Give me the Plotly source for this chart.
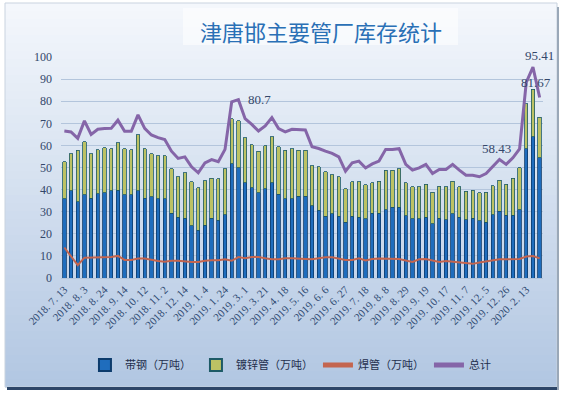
import plotly.graph_objects as go

# ---------------- data ----------------
dates = [
    "2018.7.13", "2018.7.20", "2018.7.27", "2018.8.3", "2018.8.10", "2018.8.17",
    "2018.8.24", "2018.8.31", "2018.9.7", "2018.9.14", "2018.9.21", "2018.9.28",
    "2018.10.12", "2018.10.19", "2018.10.26", "2018.11.2", "2018.11.16", "2018.11.30",
    "2018.12.14", "2018.12.21", "2018.12.28", "2019.1.4", "2019.1.11", "2019.1.18",
    "2019.1.24", "2019.2.15", "2019.2.22", "2019.3.1", "2019.3.8", "2019.3.14",
    "2019.3.21", "2019.3.28", "2019.4.11", "2019.4.18", "2019.4.25", "2019.5.9",
    "2019.5.16", "2019.5.23", "2019.5.30", "2019.6.6", "2019.6.13", "2019.6.20",
    "2019.6.27", "2019.7.4", "2019.7.11", "2019.7.18", "2019.7.25", "2019.8.1",
    "2019.8.8", "2019.8.15", "2019.8.22", "2019.8.29", "2019.9.5", "2019.9.12",
    "2019.9.19", "2019.9.26", "2019.10.10", "2019.10.17", "2019.10.24", "2019.10.31",
    "2019.11.7", "2019.11.14", "2019.11.28", "2019.12.5", "2019.12.12", "2019.12.19",
    "2019.12.26", "2020.1.2", "2020.1.9", "2020.2.13", "2020.2.20", "2020.2.27",
]

strip_steel = [  # 带钢（万吨）
    35.9, 39.5, 34.4, 37.7, 36.2, 38.2, 38.5, 39.5, 39.8, 37.7,
    37.7, 39.5, 36.2, 36.7, 35.9, 35.9, 29.4, 27.4, 27.0, 23.6,
    21.5, 23.8, 27.0, 26.1, 28.6, 51.8, 49.8, 43.0, 40.8, 38.5,
    40.3, 43.0, 38.0, 35.9, 35.9, 37.0, 37.0, 32.7, 30.6, 27.9,
    29.1, 27.9, 25.2, 27.9, 27.6, 26.7, 29.4, 29.4, 30.9, 32.1,
    32.1, 28.2, 26.7, 26.7, 27.6, 24.5, 27.1, 26.4, 29.1, 27.4,
    26.4, 27.1, 25.8, 25.2, 28.6, 30.2, 28.3, 28.3, 30.9, 58.5,
    63.9, 54.4,
]

galvanized = [  # 镀锌管（万吨）
    16.7, 16.7, 23.3, 24.0, 20.0, 19.8, 20.4, 19.0, 21.4, 20.8,
    20.3, 25.3, 22.3, 19.5, 19.4, 19.4, 20.0, 18.4, 20.6, 19.9,
    19.3, 20.3, 18.2, 18.7, 20.8, 20.3, 21.4, 20.5, 19.5, 18.8,
    19.5, 20.9, 21.4, 21.8, 22.6, 20.7, 20.7, 18.1, 19.7, 20.1,
    17.7, 17.9, 15.3, 15.6, 15.9, 15.4, 13.6, 14.4, 17.9, 16.7,
    17.3, 14.8, 14.5, 14.5, 14.8, 14.3, 14.4, 14.8, 14.7, 13.8,
    12.8, 12.6, 12.7, 13.6, 13.2, 14.0, 14.1, 16.9, 18.9, 20.4,
    21.6, 18.4,
]

welded = [  # 焊管（万吨）
    13.8, 10.0, 5.8, 9.2, 9.2, 9.2, 9.2, 9.5, 10.0, 8.2,
    8.2, 8.8, 8.8, 8.2, 7.7, 7.4, 7.8, 7.8, 7.4, 7.2,
    7.2, 7.8, 8.0, 8.0, 8.5, 7.8, 9.5, 8.9, 9.5, 9.5,
    8.9, 8.5, 8.5, 8.9, 8.9, 8.9, 8.6, 8.5, 8.9, 9.4,
    9.4, 8.9, 8.2, 8.2, 8.9, 7.9, 8.6, 8.8, 8.8, 8.9,
    8.6, 7.9, 7.3, 8.5, 8.6, 7.9, 7.3, 7.7, 7.3, 7.0,
    6.7, 6.4, 7.0, 7.6, 8.2, 8.5, 8.5, 8.5, 8.6, 9.7,
    9.9, 8.9,
]

total = [  # 总计
    66.5, 66.1, 63.2, 71.1, 65.0, 67.3, 67.6, 67.7, 71.4, 66.4,
    66.4, 73.8, 67.7, 64.7, 63.5, 62.7, 57.4, 54.1, 54.8, 50.3,
    47.6, 52.1, 53.6, 52.6, 58.2, 79.7, 80.7, 72.1, 69.5, 66.5,
    68.8, 72.6, 67.6, 66.1, 67.3, 67.0, 67.0, 59.4, 58.6, 57.4,
    56.4, 54.8, 48.3, 52.1, 52.9, 49.8, 51.6, 52.9, 58.2, 58.2,
    58.5, 51.4, 48.8, 49.8, 51.4, 47.3, 49.1, 49.1, 51.4, 48.8,
    46.5, 46.5, 45.8, 47.3, 50.6, 53.6, 51.4, 54.4, 58.43, 88.5,
    95.41, 81.67,
]

labelled_points = [26, 68, 70, 71]  # indices of annotated totals
title_text = "津唐邯主要管厂库存统计"
y_ticks = [0, 10, 20, 30, 40, 50, 60, 70, 80, 90, 100]

# ---------------- figure ----------------
cats = [d.replace(".", ". ") for d in dates]
W, H = 564, 396
L, R, T, B = 61, 21, 57, 118
pw, ph = W - L - R, H - T - B


def px_x(px):
    return (px - L) / pw


def px_y(py):
    return (H - B - py) / ph


fig = go.Figure()

fig.add_trace(go.Bar(
    x=cats, y=strip_steel, name="带钢（万吨）",
    marker=dict(color="#1f6dbd", line=dict(color="#0c3b6c", width=0.8)),
))
fig.add_trace(go.Bar(
    x=cats, y=galvanized, name="镀锌管（万吨）",
    marker=dict(color="#bcc264", line=dict(color="#1d5a66", width=0.8)),
))
fig.add_trace(go.Scatter(
    x=cats, y=welded, name="焊管（万吨）", mode="lines",
    line=dict(color="#c4654f", width=2),
))
fig.add_trace(go.Scatter(
    x=cats, y=total, name="总计", mode="lines",
    line=dict(color="#8565a8", width=3),
))

# background frame with vertical gradient
shapes = []
top_px, bot_px, left_px, right_px = 3, 387, 5, 557
n = 48
c0 = (244, 247, 252)
c1 = (178, 199, 226)
for i in range(n):
    f = i / (n - 1)
    col = tuple(int(round(c0[k] + (c1[k] - c0[k]) * f)) for k in range(3))
    y0 = top_px + (bot_px - top_px) * i / n
    y1 = top_px + (bot_px - top_px) * (i + 1) / n + 0.6
    shapes.append(dict(
        type="rect", xref="paper", yref="paper", layer="below",
        x0=px_x(left_px), x1=px_x(right_px), y0=px_y(y1), y1=px_y(y0),
        fillcolor="rgb(%d,%d,%d)" % col, line=dict(width=0),
    ))
# frame border + shadow
shapes.append(dict(type="rect", xref="paper", yref="paper", layer="below",
                   x0=px_x(left_px), x1=px_x(right_px), y0=px_y(bot_px), y1=px_y(top_px),
                   fillcolor="rgba(0,0,0,0)", line=dict(color="#c9d3df", width=1)))
shapes.append(dict(type="rect", xref="paper", yref="paper", layer="below",
                   x0=px_x(left_px + 2), x1=px_x(right_px + 1), y0=px_y(bot_px + 3), y1=px_y(bot_px),
                   fillcolor="#2d4668", line=dict(width=0)))
shapes.append(dict(type="rect", xref="paper", yref="paper", layer="below",
                   x0=px_x(right_px), x1=px_x(right_px + 2), y0=px_y(bot_px + 3), y1=px_y(top_px + 4),
                   fillcolor="#9aa8b8", line=dict(width=0)))
# title box
shapes.append(dict(type="rect", xref="paper", yref="paper", layer="below",
                   x0=px_x(183), x1=px_x(458), y0=px_y(45), y1=px_y(8),
                   fillcolor="rgba(255,255,255,0.55)", line=dict(width=0)))

annotations = [dict(
    xref="paper", yref="paper", x=px_x(321), y=px_y(31), text=title_text,
    showarrow=False, xanchor="center", yanchor="middle",
    font=dict(family="Noto Sans CJK SC", size=22, color="#2a70b6"),
)]
ann_cfg = {
    26: dict(xanchor="left", yanchor="middle", xshift=8, yshift=0),
    68: dict(xanchor="right", yanchor="middle", xshift=-7, yshift=0),
    70: dict(xanchor="center", yanchor="bottom", xshift=7, yshift=2),
    71: dict(xanchor="center", yanchor="bottom", xshift=-4, yshift=6),
}
for idx in labelled_points:
    cfg = ann_cfg[idx]
    annotations.append(dict(
        x=cats[idx], y=total[idx], xref="x", yref="y", text=str(total[idx]),
        showarrow=False, font=dict(family="Liberation Serif", size=13, color="#34476a"),
        **cfg,
    ))

fig.update_layout(
    width=W, height=H,
    margin=dict(l=L, r=R, t=T, b=B, pad=0),
    barmode="stack", bargap=0.5,
    paper_bgcolor="white", plot_bgcolor="rgba(0,0,0,0)",
    shapes=shapes, annotations=annotations,
    showlegend=True,
    legend=dict(
        orientation="h", xref="container", yref="container",
        x=0.515, y=0.078, xanchor="center", yanchor="middle",
        traceorder="normal",
        font=dict(family="Noto Sans CJK SC", size=11, color="#1e2e4c"),
        bgcolor="rgba(0,0,0,0)", itemwidth=30, itemsizing="constant",
    ),
    font=dict(family="Liberation Serif", color="#2f4a6e"),
)
fig.update_xaxes(
    type="category", range=[-0.5, len(cats) - 0.5],
    tickmode="array", tickvals=cats[::3], ticktext=cats[::3],
    tickangle=-45, tickfont=dict(family="Liberation Serif", size=11, color="#2f4a72"),
    showgrid=False, showline=True, linecolor="#b3c4da", linewidth=1,
    ticks="", automargin=False,
)
fig.update_yaxes(
    range=[0, 100], tickmode="array", tickvals=y_ticks,
    tickfont=dict(family="Liberation Serif", size=12, color="#33476a"),
    showgrid=True, gridcolor="#b3c5dc", gridwidth=1, zeroline=False,
    showline=False, ticks="", ticklabelstandoff=8, automargin=False,
)

fig.write_html(
    "out.html",
    config={"displayModeBar": False},
    post_script="document.body.style.margin='0';document.body.style.overflow='hidden';",
)
